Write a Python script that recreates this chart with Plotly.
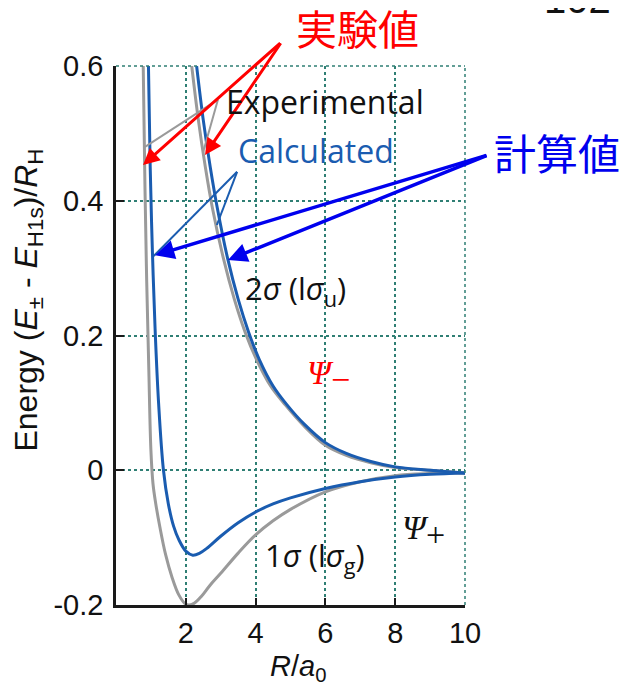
import plotly.graph_objects as go

# ---------------- data ----------------
# Psi+ (1 sigma_g), calculated
r_calc_plus = [0.93, 0.98, 1.04, 1.12, 1.22, 1.36, 1.50, 1.65, 1.80, 2.00, 2.20, 2.40, 2.60, 3.00, 3.50, 4.00, 4.50, 5.00, 6.00, 7.00, 8.00, 9.00, 10.0]
e_calc_plus = [0.60, 0.45, 0.33, 0.21, 0.10, 0.0, -0.050, -0.083, -0.103, -0.120, -0.126, -0.123, -0.116, -0.098, -0.078, -0.062, -0.050, -0.041, -0.027, -0.017, -0.010, -0.006, -0.004]
# Psi+ (1 sigma_g), experimental
r_exp_plus = [0.78, 0.83, 0.88, 0.94, 1.00, 1.06, 1.14, 1.26, 1.42, 1.60, 1.80, 2.00, 2.10, 2.25, 2.45, 2.69, 3.00, 3.50, 4.00, 4.50, 5.00, 6.00, 7.00, 8.00, 9.00, 10.0]
e_exp_plus = [0.60, 0.42, 0.28, 0.15, 0.03, -0.02, -0.050, -0.085, -0.125, -0.158, -0.185, -0.199, -0.200, -0.197, -0.187, -0.171, -0.153, -0.123, -0.096, -0.075, -0.058, -0.032, -0.017, -0.008, -0.005, -0.004]
# Psi- (2 sigma_u), calculated
r_calc_minus = [2.31, 2.50, 2.70, 2.90, 3.20, 3.50, 3.80, 4.10, 4.50, 4.90, 5.40, 6.00, 6.60, 7.30, 8.00, 9.00, 10.0]
e_calc_minus = [0.600, 0.520, 0.450, 0.390, 0.314, 0.254, 0.205, 0.165, 0.125, 0.097, 0.068, 0.041, 0.025, 0.013, 0.005, 0.000, -0.004]
# Psi- (2 sigma_u), experimental
r_exp_minus = [2.17, 2.36, 2.56, 2.76, 3.08, 3.39, 3.70, 4.02, 4.43, 4.85, 5.40, 6.00, 6.60, 7.30, 8.00, 9.00, 10.0]
e_exp_minus = [0.600, 0.520, 0.450, 0.390, 0.314, 0.254, 0.205, 0.165, 0.125, 0.097, 0.065, 0.037, 0.022, 0.011, 0.004, 0.000, -0.004]

x_ticks = [2, 4, 6, 8, 10]
x_tick_labels = ["2", "4", "6", "8", "10"]
y_ticks = [-0.2, 0, 0.2, 0.4, 0.6]
y_tick_labels = ["-0.2", "0", "0.2", "0.4", "0.6"]

# ---------------- styles ----------------
BLUE = "#1a5cb0"
GRAY = "#9a9a9a"
GRID = "#2f7f74"
AXIS = "#1a1a1a"
FONT = "Liberation Sans"
LFONT = "Open Sans"

fig = go.Figure()
for r, e, col in [(r_exp_plus, e_exp_plus, GRAY), (r_exp_minus, e_exp_minus, GRAY),
                  (r_calc_plus, e_calc_plus, BLUE), (r_calc_minus, e_calc_minus, BLUE)]:
    fig.add_trace(go.Scatter(x=r, y=e, mode="lines",
                             line=dict(color=col, width=3, shape="spline", smoothing=1.0),
                             hoverinfo="skip", showlegend=False))

fig.update_layout(
    width=638, height=690,
    margin=dict(l=108, r=181, t=58, b=93),
    paper_bgcolor="white", plot_bgcolor="white",
    showlegend=False,
    font=dict(family=FONT, color="#111111"),
    xaxis=dict(range=[0, 10], tickvals=x_ticks, ticktext=x_tick_labels,
               showgrid=True, gridcolor=GRID, gridwidth=1.5, griddash="dot",
               zeroline=False, showline=True, linecolor=AXIS, linewidth=2.5,
               ticks="inside", ticklen=7, tickwidth=2, tickcolor=AXIS,
               tickfont=dict(size=29, family=FONT, color="#111111")),
    yaxis=dict(range=[-0.2, 0.6], tickvals=y_ticks, ticktext=y_tick_labels,
               showgrid=True, gridcolor=GRID, gridwidth=1.5, griddash="dot",
               zeroline=False, showline=True, linecolor=AXIS, linewidth=2.5,
               ticks="inside", ticklen=8, tickwidth=2, tickcolor=AXIS,
               ticklabelstandoff=4,
               tickfont=dict(size=29, family=FONT, color="#111111")),
)

# dotted top and right frame
fig.add_shape(type="line", xref="paper", yref="paper", x0=0, x1=1, y0=1, y1=1,
              line=dict(color=GRID, width=1.5, dash="dot"))
fig.add_shape(type="line", xref="paper", yref="paper", x0=1, x1=1, y0=0, y1=1,
              line=dict(color=GRID, width=1.5, dash="dot"))

# leader lines for "Experimental" (gray) and "Calculated" (blue)
for (x0, y0, x1, y1, col) in [(2.92, 0.550, 0.83, 0.480, GRAY), (2.92, 0.550, 2.49, 0.471, GRAY),
                              (3.47, 0.443, 1.06, 0.317, BLUE), (3.47, 0.443, 2.89, 0.364, BLUE)]:
    fig.add_shape(type="line", xref="x", yref="y", x0=x0, y0=y0, x1=x1, y1=y1,
                  line=dict(color=col, width=2))

# arrows
for (tx, ty) in [(0.774, 0.453), (2.55, 0.468)]:
    fig.add_annotation(x=tx, y=ty, ax=4.748, ay=0.636, xref="x", yref="y", axref="x", ayref="y",
                       text="", showarrow=True, arrowhead=2, arrowsize=1.1, arrowwidth=3, arrowcolor="#ff0000")
for (tx, ty) in [(1.12, 0.319), (3.21, 0.312)]:
    fig.add_annotation(x=tx, y=ty, ax=10.66, ay=0.468, xref="x", yref="y", axref="x", ayref="y",
                       text="", showarrow=True, arrowhead=2, arrowsize=1.1, arrowwidth=3.5, arrowcolor="#0000ee")

def label(text, x, y, size, color="#111111", xanchor="left", xref="x", yref="y", family=LFONT, angle=0):
    fig.add_annotation(x=x, y=y, xref=xref, yref=yref, text=text, showarrow=False,
                       xanchor=xanchor, yanchor="middle", textangle=angle,
                       font=dict(size=size, color=color, family=family))

label("Experimental", 3.10, 0.547, 32)
label("Calculated", 3.44, 0.475, 32, color=BLUE)
label("2<i>σ</i> (l<i>σ</i><sub>u</sub>)", 3.64, 0.267, 31)
label("1<i>σ</i> (l<i>σ</i><sub>g</sub>)", 4.22, -0.129, 31)
label("<i>Ψ</i><sub><span style='font-size:34px'>−</span></sub>", 5.42, 0.140, 34,
      color="#ff0000", family="Liberation Serif")
label("<i>Ψ</i><sub><span style='font-size:34px'>+</span></sub>", 8.14, -0.090, 34,
      family="Liberation Serif")

label("実験値", 0.693, 1.072, 41, color="#ff0000", xanchor="center", xref="paper", yref="paper",
      family="Noto Sans CJK JP")
label("計算値", 1.264, 0.841, 42, color="#0000ee", xanchor="center", xref="paper", yref="paper",
      family="Noto Sans CJK JP")
label("102", 1.323, 1.125, 40, xanchor="center", xref="paper", yref="paper", family=FONT)

# axis titles
label("Energy (<i>E</i><sub>±</sub> - <i>E</i><sub>H1s</sub>)/<i>R</i><sub>H</sub>", -0.252, 0.565, 32,
      xanchor="center", xref="paper", yref="paper", angle=-90, family=FONT)
label("<i>R</i>/<i>a</i><sub>0</sub>", 0.521, -0.117, 29, xanchor="center", xref="paper", yref="paper", family=FONT)

fig.write_html("out.html")
